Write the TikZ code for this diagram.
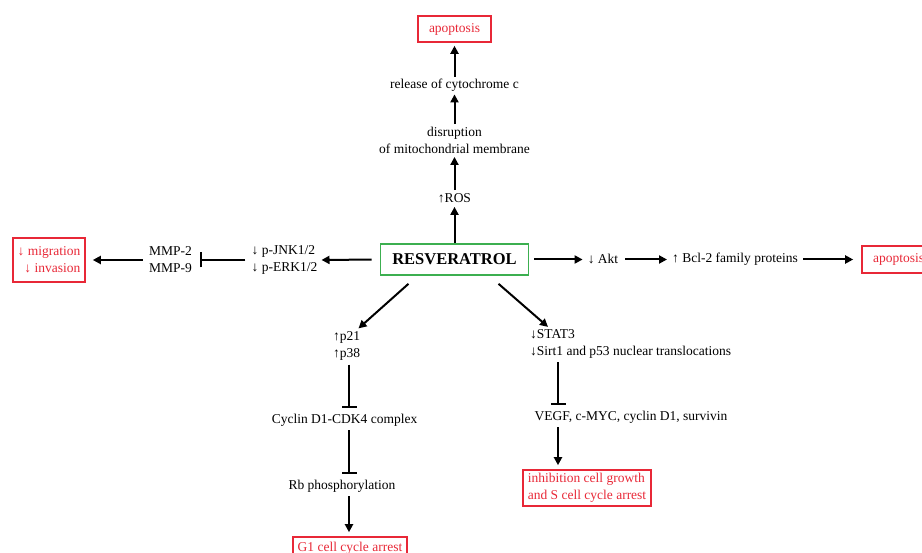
\documentclass[tikz,border=0pt]{standalone}
\usepackage{fontspec}
\setmainfont{Liberation Serif}
\usetikzlibrary{arrows.meta}
\definecolor{boxred}{RGB}{232,40,55}
\definecolor{boxgreen}{RGB}{60,175,80}
\tikzset{
    lbl/.style={font=\fontsize{13.5}{17}\selectfont, inner sep=1pt, align=center},
    redbox/.style={lbl, draw=boxred, text=boxred, line width=1.6pt, inner sep=4pt},
    mainbox/.style={draw=boxgreen, line width=1.6pt, font=\bfseries\fontsize{16.5}{20}\selectfont,
      minimum width=148pt, minimum height=31pt},
    arr/.style={line width=2pt, -{Triangle[length=8pt,width=8pt]}},
    blk/.style={line width=2pt, -{Bar[width=15pt]}}
}

\begin{document}
\begin{tikzpicture}[x=1pt, y=-1pt]
          \useasboundingbox (0,0) rectangle (922,553);
          % centre
          \node [mainbox] (res) at (454.5,259.5) {RESVERATROL};
          % upward branch
          \node [lbl] (ros) at (454.5,198) {↑ROS};
          \node [lbl] (disr) at (454.5,140.5) {disruption\\of mitochondrial membrane};
          \node [lbl] (cyto) at (454.5,85) {release of cytochrome c};
          \node [redbox, minimum width=73pt, minimum height=26pt] (apotop) at (454.5,29) {apoptosis};
          \draw [arr, shorten <=0pt, shorten >=3pt] (res.north) -- (ros.south);
          \draw [arr, shorten <=2pt, shorten >=2pt] (ros.north) -- (disr.south);
          \draw [arr, shorten <=2pt, shorten >=2pt] (disr.north) -- (cyto.south);
          \draw [arr, shorten <=1pt, shorten >=3pt] (cyto.north) -- (apotop.south);
          % right branch
          \node [lbl] (akt) at (603,259.5) {↓ Akt};
          \node [lbl] (bcl) at (735,259.5) {↑ Bcl-2 family proteins};
          \node [redbox, minimum width=73pt, minimum height=27pt] (aporight) at (898.5,259.5) {apoptosis};
          \draw [arr, shorten <=5pt, shorten >=4pt] (res.east) -- (akt.west);
          \draw [arr, shorten <=6pt, shorten >=4pt] (akt.east) -- (bcl.west);
          \draw [arr, shorten <=4pt, shorten >=8pt] (bcl.east) -- (aporight.west);
          % left branch
          \node [lbl, align=left] (jnk) at (284.5,260) {↓ p-JNK1/2\\↓ p-ERK1/2};
          \node [lbl] (mmp) at (170.5,260) {MMP-2\\MMP-9};
          \node [redbox, align=right, minimum width=72pt, minimum height=44pt] (migr) at (49,260) {↓ migration\\↓ invasion};
          \draw [arr, shorten <=8pt, shorten >=3pt] (res.west) -- (jnk.east);
          \draw [blk, shorten <=5pt, shorten >=7pt] (jnk.west) -- (mmp.east);
          \draw [arr, shorten <=5pt, shorten >=7pt] (mmp.west) -- (migr.east);
          % lower left branch
          \node [lbl] (p21) at (346.5,346) {↑p21\\↑p38};
          \node [lbl] (cyc) at (344.5,420) {Cyclin D1-CDK4 complex};
          \node [lbl] (rb) at (342,486) {Rb phosphorylation};
          \node [redbox, minimum width=114pt, minimum height=22pt] (g1) at (350,548) {G1 cell cycle arrest};
          \draw [arr] ([xshift=-46pt,yshift=-8pt]res.south) -- ([xshift=12pt,yshift=2pt]p21.north);
          \draw [blk, shorten <=3pt, shorten >=5pt] ([xshift=2.5pt]p21.south) -- ([xshift=2.5pt]p21.south |- cyc.north);
          \draw [blk, shorten <=3pt, shorten >=5pt] ([xshift=4.5pt]cyc.south) -- ([xshift=4.5pt]cyc.south |- rb.north);
          \draw [arr, shorten <=3pt, shorten >=4pt] ([xshift=7pt]rb.south) -- ([xshift=7pt]rb.south |- g1.north);
          % lower right branch
          \node [lbl, align=left, anchor=west] (stat) at (529,343.5) {↓STAT3\\↓Sirt1 and p53 nuclear translocations};
          \node [lbl] (vegf) at (631,417) {VEGF, c-MYC, cyclin D1, survivin};
          \node [redbox, align=left, minimum width=128pt, minimum height=36pt, inner sep=2pt] (inhib) at (587,488) {inhibition cell growth\\and S cell cycle arrest};
          \draw [arr] ([xshift=44pt,yshift=-8pt]res.south) -- ([xshift=19pt,yshift=1pt]stat.north west);
          \draw [blk, shorten <=3pt, shorten >=5pt] ([xshift=29pt]stat.south west) -- ([xshift=29pt]stat.south west |- vegf.north);
          \draw [arr, shorten <=3pt, shorten >=4pt] ([xshift=29pt]stat.south west |- vegf.south) -- ([xshift=29pt]stat.south west |- inhib.north);
        \end{tikzpicture}
\end{document}
